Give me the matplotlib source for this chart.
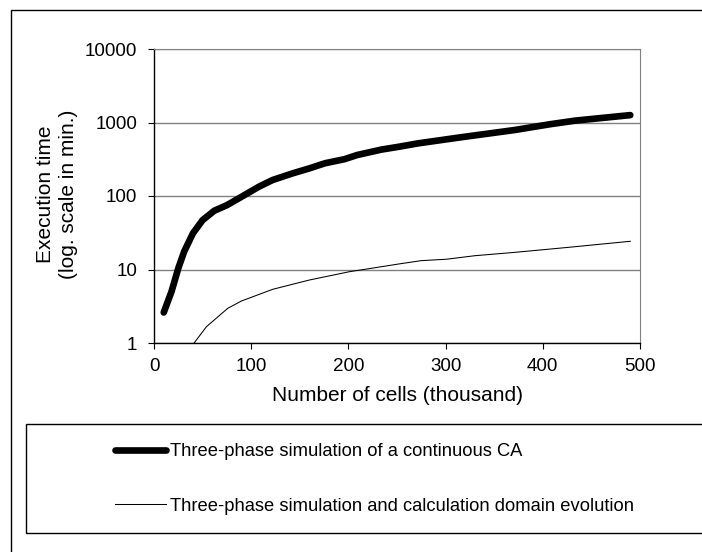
import matplotlib
matplotlib.use("Agg")
import matplotlib.pyplot as plt
from matplotlib.patches import Rectangle

plt.rcParams['font.family'] = ['Liberation Sans', 'DejaVu Sans']

# Werte
cells_ca = [10, 18, 25, 31, 40, 50, 62, 75, 92, 108, 122, 143, 160, 176, 196,
            209, 234, 252, 272, 316, 371, 407, 433, 490]
time_ca = [2.6, 5.0, 10.4, 17.5, 31, 47, 63, 75, 101, 134, 165, 204, 238, 279,
           317, 361, 428, 468, 521, 630, 790, 945, 1059, 1260]

cells_dom = [40, 54, 76, 90, 122, 160, 201, 224, 252, 275, 301, 330, 371, 426, 490]
time_dom = [0.95, 1.67, 2.97, 3.73, 5.37, 7.2, 9.33, 10.4, 11.9, 13.2, 13.8,
            15.4, 17.1, 20, 24.2]

label_ca = "Three-phase simulation of a continuous CA"
label_dom = "Three-phase simulation and calculation domain evolution"
x_ticks = [0, 100, 200, 300, 400, 500]
y_ticks = [1, 10, 100, 1000, 10000]
y_tick_labels = ["1", "10", "100", "1000", "10000"]

W, H = 702, 552
fig = plt.figure(figsize=(W / 100, H / 100), dpi=100)

# Rahmen um das ganze Diagramm (rechts und unten abgeschnitten)
fig.patches.append(Rectangle((11 / W, -0.1), 1.2, (H - 10) / H + 0.1,
                             transform=fig.transFigure, fill=False,
                             edgecolor='black', linewidth=1.0))
# Legendenrahmen
fig.patches.append(Rectangle((26 / W, 1 - 533 / H), 1.2, (533 - 424) / H,
                             transform=fig.transFigure, fill=False,
                             edgecolor='black', linewidth=1.0))

ax = fig.add_axes([154 / W, 1 - 343 / H, 486 / W, 294 / H])

ax.plot(cells_ca, time_ca, color='black', linewidth=4.8,
        solid_capstyle='round', solid_joinstyle='round', label=label_ca)
ax.plot(cells_dom, time_dom, color='black', linewidth=0.75, label=label_dom)

ax.set_yscale('log')
ax.set_xlim(0, 500)
ax.set_ylim(1, 10000)
ax.set_xticks(x_ticks)
ax.set_yticks(y_ticks)
ax.set_yticklabels(y_tick_labels)
ax.minorticks_off()
ax.yaxis.grid(True, color='#808080', linewidth=1.0)
ax.set_axisbelow(True)

for side in ['top', 'right']:
    ax.spines[side].set_color('#808080')
for side in ['left', 'bottom']:
    ax.spines[side].set_color('black')
    ax.spines[side].set_linewidth(1.0)

ax.tick_params(axis='both', direction='out', length=4, width=0.8,
               labelsize=13.5)
ax.tick_params(axis='x', pad=7)
ax.tick_params(axis='y', pad=8)

ax.set_xlabel("Number of cells (thousand)", fontsize=15, labelpad=8)
fig.text(57 / W, 1 - 194 / H, "Execution time\n(log. scale in min.)",
         rotation=90, ha='center', va='center', fontsize=15,
         multialignment='center', linespacing=1.25)

handles, labels = ax.get_legend_handles_labels()
fig.legend(handles, labels, loc='upper left',
           bbox_to_anchor=(115 / W, 1 - 443 / H), frameon=False,
           fontsize=13.2, handlelength=2.78, handletextpad=0.21,
           labelspacing=2.05, borderpad=0, borderaxespad=0)

fig.savefig("out.png", dpi=100)
